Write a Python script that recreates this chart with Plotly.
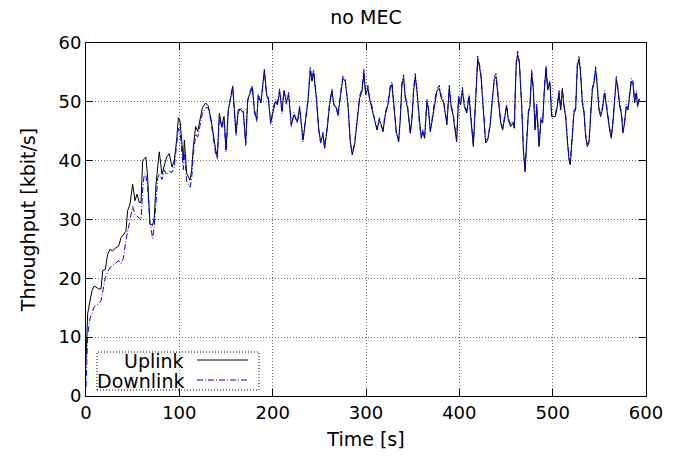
import plotly.graph_objects as go

# ---- data ----
time_s = (
    [0, 1, 1.8, 4.3, 6.4, 8.9, 11.4, 13.6, 16.1, 17.9, 20.7, 23.2, 25.7, 28.6, 32.1, 35, 37.5, 40, 42.8, 44.6,
     47.1, 50, 52.5, 54.6, 57.1, 58.9, 60.7, 62.5, 64.2, 66, 68.5, 71.4, 73.2, 75, 76.8, 78.5, 81.4, 83.9, 86.4, 89.2,
     92.1, 94.6, 97.1]
    + [99, 100.8, 102.5, 104.3, 105.4, 107.9, 111.5, 113.2, 115, 117.5, 119.7, 122.2, 124.7, 128.2, 131, 134,
       136.5, 139, 140.7, 142.9, 145.4, 147.9, 150, 152.5, 155.4, 157.2, 159, 160.7, 163.2, 165.7, 168.6, 171.1,
       173.2, 175.7, 178.2, 180.4, 182.9, 184.6, 187.5, 190, 191.1, 193.6, 195.4, 197.9, 200.4, 202.9]
    + [205, 207.5, 210, 212.1, 214.6, 217.1, 220, 222.8, 226.4, 228.9, 232.5, 235, 237.8, 240.3, 242.1, 243.9,
       246.8, 249.3, 251.4, 253.9, 255.7, 258.5, 261, 263.5, 265.7, 268.2, 270, 272.8, 275.3, 277.8, 280.7, 283.2,
       285.3, 287.8, 290.7, 293.2, 295.7, 297.8, 299.6, 302.1]
    + [303.6, 306.4, 309.3, 311.8, 314.3, 316.4, 318.2, 320.7, 323.5, 326, 327.8, 330.3, 332.5, 335, 336.8, 338.5,
       340.3, 342.1, 344.6, 347.5, 349.3, 351, 352.8, 354.6, 357.1, 359.2, 361, 362.8, 365.3, 367.1, 368.9, 370.7,
       373.2, 376, 378.5, 380.7, 383.2, 385, 386.7, 389.2, 391.4, 393.2, 395.7, 397.1, 399.2, 401.4]
    + [403.3, 405.4, 407.9, 410.4, 412.5, 415, 417.5, 419.7, 421.5, 423.2, 425.7, 428.2, 430.4, 432.9, 435.4, 437.5,
       439.3, 441.8, 444.3, 446.4, 449, 450.7, 452.5, 455, 457.2, 459, 460, 461, 462.5, 464.3, 466.8, 468.6, 470.4,
       472.2, 474, 475.7, 477.5, 479.3, 481.1, 482.9, 485.4, 487.5, 489.3, 491.1, 492.9, 494.6, 497.1, 498.9, 501.1]
    + [502.9, 505, 506.8, 508.6, 510.4, 512.1, 513.9, 515.7, 517.5, 518.9, 521.1, 522.8, 524.6, 526.4, 528.2, 529.6,
       531.8, 533.6, 535.3, 537.1, 538.9, 540.7, 542.5, 544.3, 546, 547.8, 549.6, 551.4, 553.2, 555.7, 557.5, 559.3,
       561, 562.8, 564.6, 566.4, 568.2, 570, 571.8, 573.5, 575.3, 577.1, 578.9, 580.7, 582.5, 584.3, 586, 587.8,
       589.6, 591, 593]
)

uplink = (
    [6, 11, 14, 16.2, 17.9, 18.7, 18.5, 18.2, 18.2, 21.3, 21.5, 24.1, 24.9, 24.7, 25.2, 25.5, 26.9, 27.5, 28, 31.5,
     32.6, 36, 33.2, 34.3, 32.9, 32.9, 40, 40.3, 40.6, 37.2, 29.2, 29, 30.4, 36, 39.5, 41.5, 37.7, 39.2, 40.6, 41.2,
     38.9, 40, 43.5]
    + [47.3, 46.7, 43.5, 40.1, 43.5, 37.8, 36.7, 38.4, 42.4, 45.8, 45, 47, 49, 49.8, 49.3, 47, 44.1, 41.8, 40.7,
       48.1, 45.8, 47.5, 41.8, 48.7, 51, 52.7, 48.7, 44.7, 48.7, 48.7, 48.1, 43, 50.4, 51.5, 52.4, 48.7, 47, 51,
       49.8, 53.8, 55.5, 51, 50.4, 46.5, 48.4, 50]
    + [49.5, 51.8, 48.4, 51.8, 50, 51.2, 46.1, 47.8, 46.6, 48.9, 43.5, 46.6, 50, 55.2, 53.5, 54.9, 50.6, 45.5,
       43.2, 44.4, 42.1, 45.5, 49.5, 51.8, 49.5, 48.9, 47.8, 51.2, 54, 53.5, 49.5, 43.2, 41, 42.7, 46.6, 50.6,
       51.8, 54.9, 51.2, 52.3]
    + [50.6, 48.9, 47.2, 45.2, 46.9, 46.1, 44.9, 47.8, 49.5, 52.3, 52.9, 48.9, 44.9, 43.2, 47.2, 52.9, 54, 50.6,
       48.9, 44.7, 47.2, 51.8, 54.3, 51.8, 46.6, 43.8, 44.9, 43.8, 50, 48.4, 44.9, 46.6, 49.5, 51.8, 52.3, 50.6,
       49.8, 47.8, 46.1, 52.3, 48.9, 47.8, 45.2, 43.2, 50.6, 49.5]
    + [52, 49.2, 48.1, 50.9, 46.9, 42.4, 50.3, 57.2, 56, 54.3, 48.6, 43, 43.5, 45.8, 50.3, 53.8, 54.3, 50.3, 46.4,
       45.2, 47.5, 49.2, 46.9, 45.8, 46.4, 45.5, 52, 56.5, 58, 56.6, 49.2, 41.8, 38.1, 43.5, 48.1, 49.2, 54.9, 52,
       45.2, 49.2, 42.4, 46.9, 46.4, 52, 55.7, 52, 53.2, 47.5, 47.5]
    + [47.5, 49.2, 51.5, 48.6, 52, 49.2, 47.5, 43.5, 40.1, 39.3, 44.1, 48.1, 48.6, 56, 57.2, 55.5, 49.8, 48.1,
       44.1, 42.4, 43, 48.1, 52, 53.2, 55.5, 52.6, 48.6, 47.5, 48.6, 51.5, 49.2, 46.9, 45.2, 43.8, 46.4, 50.3, 53.8,
       52, 49.2, 48.1, 44.7, 46.4, 49.2, 48.6, 51.5, 53.5, 53.2, 49.8, 51.5, 49.2, 50.5]
)

downlink = (
    [1.5, 6, 10.4, 13.2, 14.2, 15.2, 15.5, 15.7, 16.2, 17.5, 20.1, 21.1, 21.8, 22.2, 22.7, 23, 22.5, 23.4, 26.5,
     28, 29.8, 32.2, 30.8, 30.6, 30.2, 29.9, 35, 37.8, 37.5, 35.5, 29.5, 26.8, 29, 33.3, 37, 37.8, 36.8, 38.4,
     37.6, 38.2, 38, 39, 42.4]
    + [45.5, 45, 42, 38.5, 41.5, 36.5, 35.5, 37, 41, 44.5, 44, 46, 48, 49, 49, 46.5, 43.5, 41, 40.3, 47.5, 45.5,
       47, 41.5, 48.5, 51.3, 52.5, 48.2, 44.3, 48.2, 49, 48.5, 42.6, 50, 51.8, 52.8, 48.3, 46.6, 51.3, 50.2, 54,
       55, 51.4, 50.8, 46.2, 48.8, 50.4]
    + [49.8, 52.2, 48, 52.1, 49.6, 51.6, 45.8, 48.2, 46.3, 49.3, 43.2, 46.9, 50.4, 56, 53.9, 55.5, 51, 45.2, 43,
       44.8, 42.3, 45.9, 49.9, 52.2, 49.2, 49.3, 47.5, 51.6, 54.5, 53.8, 49.2, 43, 41.3, 43.1, 47, 51, 52.2, 55.6,
       51.6, 52.8]
    + [51, 49.3, 46.9, 45.5, 47.3, 45.8, 45.3, 48.2, 49.9, 52.7, 53.4, 49.3, 44.6, 43.5, 47.6, 53.3, 54.6, 51,
       49.3, 44.5, 47.6, 52.2, 54.8, 52.2, 46.3, 44.1, 45.3, 44.2, 50.4, 48.8, 45.3, 47, 49.9, 52.2, 52.8, 51,
       50.2, 48.2, 46.5, 52.8, 49.3, 48.2, 45.6, 43.6, 51, 49.9]
    + [52.5, 49.6, 48.5, 51.3, 47.3, 42.8, 50.7, 57.8, 56.5, 54.7, 49, 43.4, 43.8, 46.2, 50.7, 54.3, 54.8, 50.7,
       46.8, 45.5, 47.9, 49.6, 47.2, 46.2, 46.8, 45.8, 52.3, 57, 58.6, 57, 49.6, 42.2, 38.6, 43.9, 48.5, 49.6,
       55.4, 52.4, 45.6, 49.6, 42.8, 47.3, 46.8, 52.4, 56.2, 52.4, 53.6, 47.8, 47.8]
    + [47.9, 49.6, 51.9, 49, 52.4, 49.6, 47.9, 43.9, 40.5, 39.7, 44.5, 48.5, 49, 56.5, 57.7, 56, 50.2, 48.5,
       44.5, 42.8, 43.4, 48.5, 52.4, 53.6, 56, 53, 49, 47.9, 49, 51.9, 49.6, 47.3, 45.6, 44.2, 46.8, 50.7, 54.3,
       52.4, 49.6, 48.5, 45.1, 46.8, 49.6, 49, 51.9, 54, 53.6, 50.2, 51.9, 49.6, 50.8]
)

series_names = ["Uplink", "Downlink"]
x_ticks = [0, 100, 200, 300, 400, 500, 600]
y_ticks = [0, 10, 20, 30, 40, 50, 60]

FONT = "DejaVu Sans"
TICK_SIZE = 18
TEXT_SIZE = 19
UP_STYLE = dict(color="black", width=1)
DOWN_STYLE = dict(color="#0000ff", width=1, dash="6px,2px,1px,2px")

fig = go.Figure()
fig.add_trace(go.Scatter(x=time_s, y=uplink, mode="lines", name=series_names[0],
                         line=UP_STYLE, showlegend=False))
fig.add_trace(go.Scatter(x=time_s, y=downlink, mode="lines", name=series_names[1],
                         line=DOWN_STYLE, showlegend=False))

axis_common = dict(
    showline=True, linecolor="black", linewidth=1, mirror="ticks",
    ticks="inside", ticklen=7, tickcolor="black", tickwidth=1,
    showgrid=True, gridcolor="#707070", griddash="1px,2px", gridwidth=1,
    zeroline=False, tickfont=dict(family=FONT, size=TICK_SIZE, color="black"),
)

fig.update_layout(
    width=676, height=460,
    margin=dict(l=86, r=30, t=43, b=64),
    paper_bgcolor="white", plot_bgcolor="white",
    font=dict(family=FONT, size=TEXT_SIZE, color="black"),
    title=dict(text="no MEC", x=0.5, xref="paper", y=1 - 17 / 460, yref="container",
               yanchor="middle", font=dict(family=FONT, size=TEXT_SIZE)),
    xaxis=dict(range=[0, 600], tickvals=x_ticks,
               title=dict(text="Time [s]", standoff=11, font=dict(family=FONT, size=TEXT_SIZE)),
               **axis_common),
    yaxis=dict(range=[0, 60], tickvals=y_ticks,
               title=dict(text="Throughput [kbit/s]", standoff=17, font=dict(family=FONT, size=TEXT_SIZE)),
               **axis_common),
)

# gnuplot-style key box (bottom-left, dotted frame, text right-aligned, sample on the right)
def px_x(p):
    return (p - 86) / 560

def px_y(p):
    return (396 - p) / 353

fig.add_shape(type="rect", xref="paper", yref="paper",
              x0=px_x(97), x1=px_x(259), y0=px_y(390), y1=px_y(352),
              line=dict(color="black", width=1, dash="1px,2px"), fillcolor="rgba(0,0,0,0)")
for name, ypx, style in [(series_names[0], 361, UP_STYLE), (series_names[1], 381, DOWN_STYLE)]:
    fig.add_annotation(xref="paper", yref="paper", x=px_x(186), y=px_y(ypx),
                       text=name, showarrow=False, xanchor="right", yanchor="middle",
                       font=dict(family=FONT, size=TEXT_SIZE, color="black"))
    fig.add_shape(type="line", xref="paper", yref="paper",
                  x0=px_x(197), x1=px_x(248), y0=px_y(ypx - 1), y1=px_y(ypx - 1), line=style)

# remove the default page margin so the figure starts at the window's corner
fig.write_html("out.html", config={"displayModeBar": False},
               post_script="document.body.style.margin='0';")
